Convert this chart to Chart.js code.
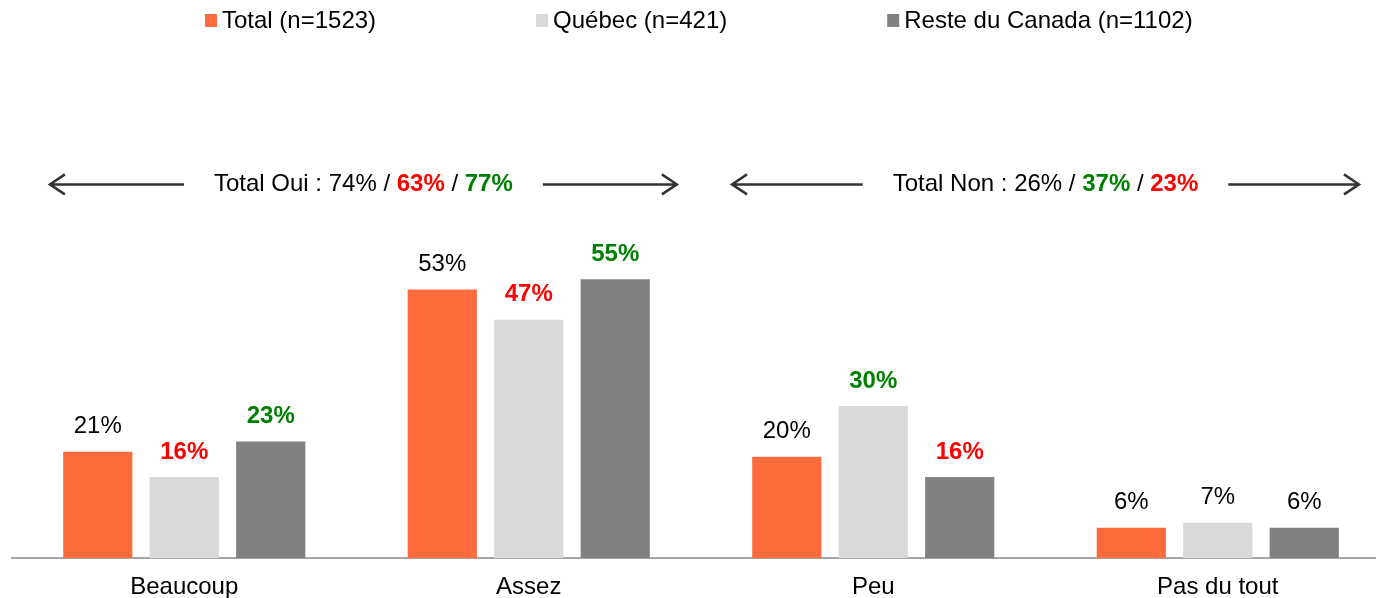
<!DOCTYPE html>
<html>
<head>
<meta charset="utf-8">
<script src="https://cdn.jsdelivr.net/npm/chart.js@4.4.0/dist/chart.umd.min.js"></script>
<style>
    html, body { margin: 0; padding: 0; background: #fff; overflow: hidden; }
    #wrap { width: 1390px; height: 617px; }
</style>
</head>
<body>
<div id="wrap"><canvas id="chart"></canvas></div>
<script>
const categories = ['Beaucoup', 'Assez', 'Peu', 'Pas du tout'];
const seriesLabels = ['Total (n=1523)', 'Québec (n=421)', 'Reste du Canada (n=1102)'];
const totalValues = [21, 53, 20, 6];
const quebecValues = [16, 47, 30, 7];
const resteValues = [23, 55, 16, 6];

// difference vs. total: 'up' = green, 'down' = red, '' = plain
const totalSig = ['', '', '', ''];
const quebecSig = ['down', 'down', 'up', ''];
const resteSig = ['up', 'up', 'down', ''];

// summary brackets over the bars
const ouiValues = ['74%', '63%', '77%'];
const ouiSig = ['', 'down', 'up'];
const nonValues = ['26%', '37%', '23%'];
const nonSig = ['', 'up', 'down'];

const FONT = "'Liberation Sans', Arial, sans-serif";
const seriesColors = ['#fd6b3c', '#d9d9d9', '#808080'];
const sigColors = { up: '#008000', down: '#ff0000', '': '#000000' };

Chart.defaults.font.family = FONT;

function drawArrow(ctx, tipX, tailX, y) {
    const dir = tipX < tailX ? 1 : -1;
    ctx.beginPath();
    ctx.moveTo(tailX, y);
    ctx.lineTo(tipX, y);
    ctx.moveTo(tipX + dir * 15, y - 10);
    ctx.lineTo(tipX, y);
    ctx.lineTo(tipX + dir * 15, y + 10);
    ctx.stroke();
}

function drawSummary(chart, fromVal, toVal, label, values, sig) {
    const ctx = chart.ctx;
    const x = chart.scales.x;
    const y = chart.scales.y.getPixelForValue(73.7);
    const left = x.getPixelForValue(fromVal);
    const right = x.getPixelForValue(toVal);
    const mid = (left + right) / 2;

    const parts = [{ text: label, bold: false, color: '#000' }];
    values.forEach((v, i) => {
        if (i > 0) parts.push({ text: ' / ', bold: false, color: '#000' });
        parts.push({ text: v, bold: sig[i] !== '', color: sigColors[sig[i]] });
    });

    let width = 0;
    parts.forEach(p => {
        ctx.font = (p.bold ? 'bold ' : '') + '24px ' + FONT;
        p.w = ctx.measureText(p.text).width;
        width += p.w;
    });

    let cx = mid - width / 2;
    ctx.textBaseline = 'middle';
    ctx.textAlign = 'left';
    parts.forEach(p => {
        ctx.font = (p.bold ? 'bold ' : '') + '24px ' + FONT;
        ctx.fillStyle = p.color;
        ctx.fillText(p.text, cx, y);
        cx += p.w;
    });

    ctx.strokeStyle = '#333333';
    ctx.lineWidth = 2.5;
    drawArrow(ctx, left, mid - width / 2 - 30, y);
    drawArrow(ctx, right, mid + width / 2 + 30, y);
}

const valueLabels = {
    id: 'valueLabels',
    afterDatasetsDraw(chart) {
        const ctx = chart.ctx;
        ctx.save();
        ctx.textAlign = 'center';
        ctx.textBaseline = 'middle';
        chart.data.datasets.forEach((ds, di) => {
            const meta = chart.getDatasetMeta(di);
            meta.data.forEach((bar, i) => {
                const s = ds.sig[i];
                ctx.font = (s ? 'bold ' : '') + '24px ' + FONT;
                ctx.fillStyle = sigColors[s];
                ctx.fillText(ds.data[i] + '%', bar.x, bar.y - 25);
            });
        });
        ctx.restore();
    }
};

const topLegend = {
    id: 'topLegend',
    afterDraw(chart) {
        const ctx = chart.ctx;
        ctx.save();
        ctx.font = '24px ' + FONT;
        ctx.textBaseline = 'middle';
        ctx.textAlign = 'left';
        let x = 205;
        const y = 21;
        chart.data.datasets.forEach(ds => {
            ctx.fillStyle = ds.backgroundColor;
            ctx.fillRect(x, y - 7, 12, 13);
            ctx.fillStyle = '#000';
            ctx.fillText(ds.label, x + 17, y);
            x += 17 + ctx.measureText(ds.label).width + 160;
        });
        ctx.restore();
    }
};

const summaryArrows = {
    id: 'summaryArrows',
    afterDraw(chart) {
        const ctx = chart.ctx;
        ctx.save();
        drawSummary(chart, -0.39, 1.43, 'Total Oui : ', ouiValues, ouiSig);
        drawSummary(chart, 1.59, 3.41, 'Total Non : ', nonValues, nonSig);
        ctx.restore();
    }
};

const ctx = document.getElementById('chart').getContext('2d');
new Chart(ctx, {
    type: 'bar',
    data: {
        labels: categories,
        datasets: [
            { label: seriesLabels[0], data: totalValues, sig: totalSig, backgroundColor: seriesColors[0] },
            { label: seriesLabels[1], data: quebecValues, sig: quebecSig, backgroundColor: seriesColors[1] },
            { label: seriesLabels[2], data: resteValues, sig: resteSig, backgroundColor: seriesColors[2] }
        ]
    },
    options: {
        responsive: true,
        maintainAspectRatio: false,
        animation: false,
        layout: { padding: { top: 51, left: 12, right: 0, bottom: 0 } },
        datasets: {
            bar: { categoryPercentage: 0.753, barPercentage: 0.8, borderWidth: 0 }
        },
        plugins: {
            legend: { display: false },
            tooltip: { enabled: false }
        },
        scales: {
            x: {
                grid: { display: false, drawTicks: false },
                border: { display: true, color: '#a6a6a6', width: 2 },
                ticks: { color: '#000', font: { size: 24 }, padding: 15 }
            },
            y: {
                display: false,
                min: 0,
                max: 100
            }
        }
    },
    plugins: [valueLabels, topLegend, summaryArrows]
});
</script>
</body>
</html>
